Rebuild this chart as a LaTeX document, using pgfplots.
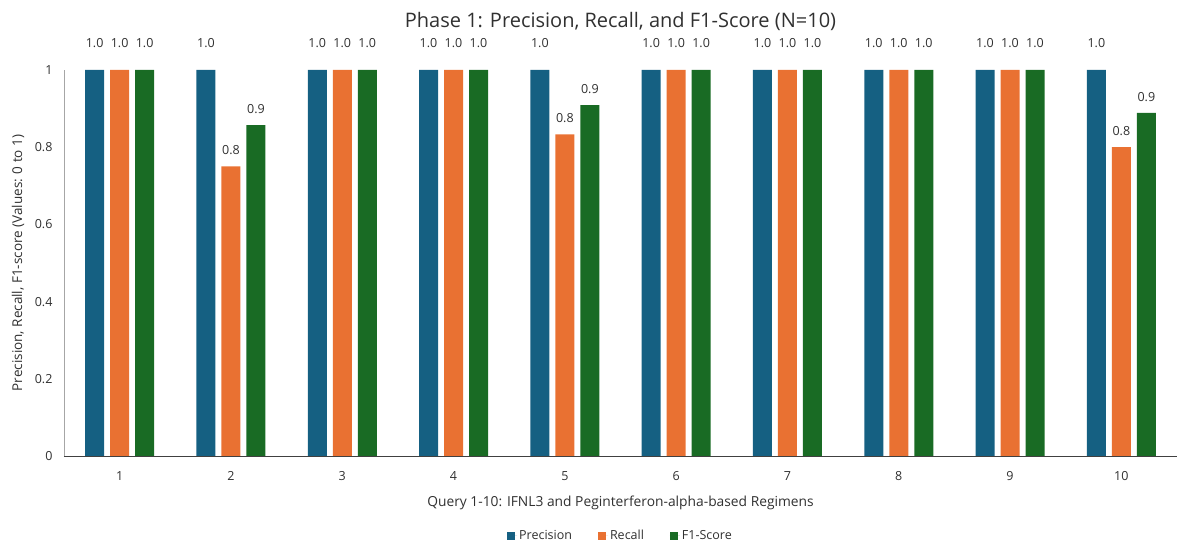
\documentclass[border=0pt]{standalone}
\usepackage{pgfplots}
\pgfplotsset{compat=1.18}
\usepackage{fontspec}
\setmainfont{Open Sans}

\definecolor{precC}{HTML}{156082}
\definecolor{recC}{HTML}{E97132}
\definecolor{fC}{HTML}{196B24}
\definecolor{txtC}{HTML}{303030}

\begin{document}
\begin{tikzpicture}[x=1pt,y=1pt]
\begin{axis}[
    at={(64pt,88pt)}, anchor=south west,
    scale only axis,
    width=1113pt, height=386pt,
    ybar=6pt, bar width=19pt,
    xmin=0.5, xmax=10.5,
    ymin=0, ymax=1,
    xtick={1,...,10},
    ytick={0,0.2,0.4,0.6,0.8,1},
    major tick length=0pt,
    axis on top,
    axis x line*=bottom, axis y line*=left,
    x axis line style={draw=black!75, line width=0.9pt, -},
    y axis line style={draw=black!35, line width=0.6pt, -},
    ticklabel style={font=\fontsize{12.5}{14}\selectfont, text=txtC},
    xticklabel style={yshift=-12pt},
    yticklabel style={xshift=-8pt},
    /pgf/number format/assume math mode=true,
    title={Phase 1: Precision, Recall, and F1-Score (N=10)},
    title style={at={(axis description cs:0.5,1.111)}, anchor=center,
        font=\fontsize{20}{22}\selectfont, text=txtC},
    xlabel={Query 1-10: IFNL3 and Peginterferon-alpha-based Regimens},
    xlabel style={at={(axis description cs:0.5,-0.122)}, anchor=center,
        font=\fontsize{13.8}{16}\selectfont, text=txtC},
    ylabel={Precision, Recall, F1-score (Values: 0 to 1)},
    ylabel style={at={(axis description cs:-0.0413,0.5)}, anchor=center,
        font=\fontsize{13.5}{16}\selectfont, text=txtC},
    legend style={at={(axis description cs:0.5,-0.207)}, anchor=center,
        draw=none, fill=none, legend columns=3,
        font=\fontsize{12.5}{14}\selectfont, text=txtC,
        /tikz/every even column/.append style={column sep=24pt}},
    legend image code/.code={\fill[#1] (0pt,-4pt) rectangle (8pt,4pt);
        \path (0pt,0pt) -- (10pt,0pt);},
    visualization depends on={y \as \yv},
    nodes near coords,
    nodes near coords style={font=\fontsize{12.5}{14}\selectfont, text=txtC,
        anchor=base, inner sep=0pt,
        yshift={(\yv>0.99)*11+11.5},
        /pgf/number format/.cd, fixed, fixed zerofill, precision=1},
]
\addplot[fill=precC, draw=none] coordinates {
    (1,1) (2,1) (3,1) (4,1) (5,1) (6,1) (7,1) (8,1) (9,1) (10,1)};
\addplot[fill=recC, draw=none] coordinates {
    (1,1) (2,0.75) (3,1) (4,1) (5,0.833) (6,1) (7,1) (8,1) (9,1) (10,0.8)};
\addplot[fill=fC, draw=none] coordinates {
    (1,1) (2,0.857) (3,1) (4,1) (5,0.909) (6,1) (7,1) (8,1) (9,1) (10,0.889)};
\legend{Precision, Recall, F1-Score}
\end{axis}
\pgfresetboundingbox
\useasboundingbox (0pt,0pt) rectangle (1184pt,544pt);
\end{tikzpicture}
\end{document}
